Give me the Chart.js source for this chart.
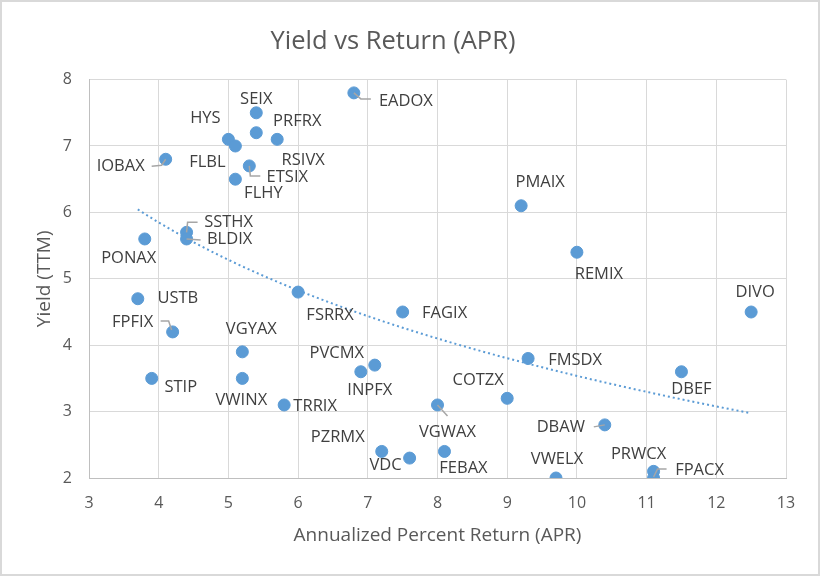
<!DOCTYPE html>
<html>
<head>
<meta charset="utf-8">
<title>Yield vs Return (APR)</title>
<script src="https://cdn.jsdelivr.net/npm/chart.js@4/dist/chart.umd.min.js"></script>
<style>
    html, body { margin: 0; padding: 0; background: #fff; }
    #wrap { width: 820px; height: 576px; position: relative; }
</style>
</head>
<body>
<div id="wrap"><canvas id="yield-return"></canvas></div>
<script>
    "use strict";

    // Data: fund tickers, annualized return (APR) and yield (TTM)
    var funds = ["EADOX", "SEIX", "PRFRX", "HYS", "RSIVX", "FLBL", "ETSIX", "FLHY", "IOBAX", "PMAIX",
        "SSTHX", "BLDIX", "PONAX", "REMIX", "FSRRX", "USTB", "FAGIX", "DIVO", "FPFIX", "VGYAX",
        "FMSDX", "PVCMX", "INPFX", "DBEF", "STIP", "VWINX", "COTZX", "TRRIX", "VGWAX", "DBAW",
        "PZRMX", "FEBAX", "VDC", "PRWCX", "VWELX", "FPACX"];
    var aprValues = [6.8, 5.4, 5.4, 5.0, 5.7, 5.1, 5.3, 5.1, 4.1, 9.2,
        4.4, 4.4, 3.8, 10.0, 6.0, 3.7, 7.5, 12.5, 4.2, 5.2,
        9.3, 7.1, 6.9, 11.5, 3.9, 5.2, 9.0, 5.8, 8.0, 10.4,
        7.2, 8.1, 7.6, 11.1, 9.7, 11.1];
    var yieldValues = [7.8, 7.5, 7.2, 7.1, 7.1, 7.0, 6.7, 6.5, 6.8, 6.1,
        5.7, 5.6, 5.6, 5.4, 4.8, 4.7, 4.5, 4.5, 4.2, 3.9,
        3.8, 3.7, 3.6, 3.6, 3.5, 3.5, 3.2, 3.1, 3.1, 2.8,
        2.4, 2.4, 2.3, 2.1, 2.0, 2.0];
    var xTicks = [3, 4, 5, 6, 7, 8, 9, 10, 11, 12, 13];
    var yTicks = [2, 3, 4, 5, 6, 7, 8];

    // Label placement: offset of the label centre from its point, plus optional leader line
    var labelPlacement = {
        EADOX: {dx: 52, dy: 8, leader: [[0, 0], [7, 6], [17, 6]]},
        SEIX: {dx: 0, dy: -14},
        PRFRX: {dx: 41, dy: -11},
        HYS: {dx: -23, dy: -21},
        RSIVX: {dx: 26, dy: 21},
        FLBL: {dx: -28, dy: 16},
        ETSIX: {dx: 38, dy: 11, leader: [[0, 0], [1, 10], [11, 10]]},
        FLHY: {dx: 28, dy: 14},
        IOBAX: {dx: -45, dy: 7, leader: [[-14, 7], [-4, 6], [0, 0]]},
        PMAIX: {dx: 19, dy: -23},
        SSTHX: {dx: 42, dy: -10, leader: [[0, 0], [1, -10], [11, -10]]},
        BLDIX: {dx: 43, dy: 0, leader: [[0, 0], [14, 1]]},
        PONAX: {dx: -16, dy: 19},
        REMIX: {dx: 22, dy: 22},
        FSRRX: {dx: 32, dy: 23},
        USTB: {dx: 40, dy: 0},
        FAGIX: {dx: 42, dy: 1},
        DIVO: {dx: 4, dy: -20},
        FPFIX: {dx: -40, dy: -10, leader: [[-12, -11], [-4, -11], [-1, -2]]},
        VGYAX: {dx: 9, dy: -23},
        FMSDX: {dx: 47, dy: 2},
        PVCMX: {dx: -38, dy: -12},
        INPFX: {dx: 9, dy: 19},
        DBEF: {dx: 10, dy: 18},
        STIP: {dx: 29, dy: 9},
        VWINX: {dx: -1, dy: 22},
        COTZX: {dx: -29, dy: -18},
        TRRIX: {dx: 31, dy: 1},
        VGWAX: {dx: 10, dy: 27, leader: [[0, 0], [10, 11]]},
        DBAW: {dx: -44, dy: 2, leader: [[-11, 2], [0, 0]]},
        PZRMX: {dx: -44, dy: -14},
        FEBAX: {dx: 19, dy: 17},
        VDC: {dx: -24, dy: 7},
        PRWCX: {dx: -15, dy: -17},
        VWELX: {dx: 1, dy: -19},
        FPACX: {dx: 46, dy: -8, leader: [[0, -1], [4, -9], [13, -9]]}
    };

    var fontFamily = "'Open Sans', 'Noto Sans', sans-serif";
    var pointColor = "#5B9BD5";

    // Logarithmic trendline fitted to the data (least squares on ln(x))
    function logTrend(xs, ys) {
        var n = xs.length, sl = 0, sy = 0, sll = 0, sly = 0;
        for (var i = 0; i < n; i++) {
            var l = Math.log(xs[i]);
            sl += l; sy += ys[i]; sll += l * l; sly += l * ys[i];
        }
        var b = (n * sly - sl * sy) / (n * sll - sl * sl);
        var a = (sy - b * sl) / n;
        var xMin = Math.min.apply(null, xs), xMax = Math.max.apply(null, xs);
        var pts = [];
        for (var k = 0; k <= 60; k++) {
            var x = xMin + (xMax - xMin) * k / 60;
            pts.push({x: x, y: a + b * Math.log(x)});
        }
        return pts;
    }

    var scatterPoints = funds.map(function (name, i) {
        return {x: aprValues[i], y: yieldValues[i], name: name};
    });

    // Chart frame (light grey border round the whole chart)
    var framePlugin = {
        id: "frame",
        beforeDraw: function (chart) {
            var ctx = chart.ctx;
            ctx.save();
            ctx.fillStyle = "#ffffff";
            ctx.fillRect(0, 0, chart.width, chart.height);
            ctx.strokeStyle = "#D9D9D9";
            ctx.lineWidth = 2;
            ctx.strokeRect(1, 1, chart.width - 2, chart.height - 2);
            ctx.restore();
        }
    };

    // Data labels with leader lines
    var labelPlugin = {
        id: "fundLabels",
        afterDatasetsDraw: function (chart) {
            var ctx = chart.ctx;
            var meta = chart.getDatasetMeta(0);
            ctx.save();
            ctx.font = "16.5px " + fontFamily;
            ctx.textAlign = "center";
            ctx.textBaseline = "middle";
            meta.data.forEach(function (el, i) {
                var name = funds[i];
                var p = labelPlacement[name] || {dx: 30, dy: 0};
                if (p.leader) {
                    ctx.strokeStyle = "#A6A6A6";
                    ctx.lineWidth = 1.5;
                    ctx.beginPath();
                    p.leader.forEach(function (q, j) {
                        if (j === 0) ctx.moveTo(el.x + q[0], el.y + q[1]);
                        else ctx.lineTo(el.x + q[0], el.y + q[1]);
                    });
                    ctx.stroke();
                }
                ctx.fillStyle = "#404040";
                ctx.fillText(name, el.x + p.dx, el.y + p.dy);
            });
            ctx.restore();
        }
    };

    var ctx = document.getElementById("yield-return").getContext("2d");
    var myChart = new Chart(ctx, {
        type: "scatter",
        data: {
            datasets: [{
                label: "Yield",
                data: scatterPoints,
                backgroundColor: pointColor,
                borderColor: pointColor,
                pointRadius: 6,
                pointHoverRadius: 6,
                order: 0
            }, {
                label: "Trend",
                type: "line",
                data: logTrend(aprValues, yieldValues),
                borderColor: pointColor,
                borderWidth: 2,
                borderDash: [2, 3],
                pointRadius: 0,
                fill: false,
                tension: 0,
                order: 1
            }]
        },
        options: {
            responsive: true,
            maintainAspectRatio: false,
            animation: false,
            devicePixelRatio: 1,
            layout: {
                padding: {left: 0, right: 34, top: 0, bottom: 0}
            },
            plugins: {
                legend: {display: false},
                tooltip: {enabled: false},
                title: {
                    display: true,
                    text: "Yield vs Return (APR)",
                    color: "#595959",
                    font: {family: fontFamily, size: 25.5, weight: "normal", lineHeight: 1.2},
                    padding: {top: 26, bottom: 23}
                }
            },
            scales: {
                x: {
                    type: "linear",
                    min: xTicks[0],
                    max: xTicks[xTicks.length - 1],
                    afterFit: function (scale) { scale.height = 98; },
                    afterBuildTicks: function (scale) {
                        scale.ticks = xTicks.map(function (v) { return {value: v}; });
                    },
                    grid: {color: "#D9D9D9", lineWidth: 1, drawTicks: false},
                    border: {color: "#BFBFBF", width: 1},
                    ticks: {
                        color: "#595959",
                        padding: 16,
                        font: {family: fontFamily, size: 16}
                    },
                    title: {
                        display: true,
                        text: "Annualized Percent Return (APR)",
                        color: "#595959",
                        font: {family: fontFamily, size: 19, lineHeight: 1.2},
                        padding: {top: 0, bottom: 29}
                    }
                },
                y: {
                    type: "linear",
                    min: yTicks[0],
                    max: yTicks[yTicks.length - 1],
                    afterFit: function (scale) { scale.width = 89; },
                    afterBuildTicks: function (scale) {
                        scale.ticks = yTicks.map(function (v) { return {value: v}; });
                    },
                    grid: {color: "#D9D9D9", lineWidth: 1, drawTicks: false},
                    border: {color: "#BFBFBF", width: 1},
                    ticks: {
                        color: "#595959",
                        padding: 17,
                        font: {family: fontFamily, size: 16}
                    },
                    title: {
                        display: true,
                        text: "Yield (TTM)",
                        color: "#595959",
                        font: {family: fontFamily, size: 19, lineHeight: 1.2},
                        padding: {top: 33, bottom: 0}
                    }
                }
            }
        },
        plugins: [framePlugin, labelPlugin]
    });
</script>
</body>
</html>
